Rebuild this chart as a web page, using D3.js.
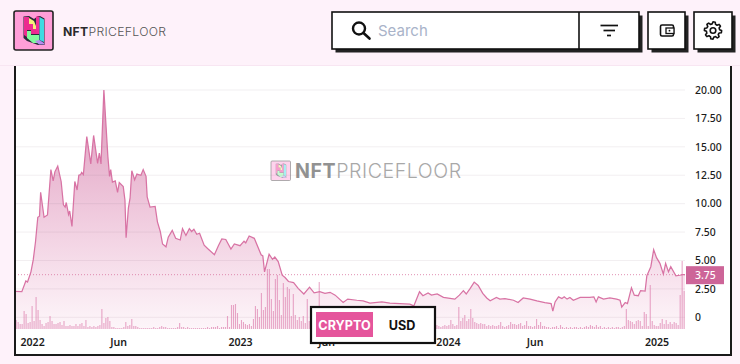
<!DOCTYPE html>
<html>
<head>
<meta charset="utf-8">
<script src="https://cdn.jsdelivr.net/npm/d3@7"></script>
<style>
  html, body { margin: 0; padding: 0; background: #fef2fa; }
  svg { display: block; }
  .axis text { font-family: "Noto Sans", sans-serif; fill: #1c1c1c; }
</style>
</head>
<body>
<script>
const width = 740;
const height = 364;

// days counted from 2022-01-01, and the floor price read at each of them
const priceDays = [-30,-18,-11,-8,-2,2,6,10,13,15,21,27,33,37,40,45,51,55,58,60,64,66,70,75,79,82,85,87,90,96,103,108,115,118,121,126,133,136,138,141,146,150,153,160,163,165,169,172,175,180,184,191,195,200,202,207,216,220,225,229,235,239,246,252,260,264,270,276,280,284,289,294,302,308,320,327,333,340,349,355,365,372,375,381,390,402,405,408,416,422,426,432,439,444,450,459,467,477,487,495,505,514,523,532,546,554,570,581,593,614,628,663,670,680,686,695,701,711,722,742,750,757,762,769,776,783,791,798,804,815,821,830,845,853,862,874,886,900,911,914,918,924,930,934,939,944,950,962,979,986,990,994,1003,1014,1026,1032,1035,1041,1045,1052,1057,1064,1068,1076,1079,1086,1091,1096,1102,1108,1112,1117,1121,1130,1137,1142,1146];
const priceValues = [2.29,2.26,3.2,3.1,4.0,5.05,6.65,8.8,8.9,11,8.8,9.0,13,12,12.8,13.3,11.95,9.9,9.7,10.1,9.05,9.35,8.0,11.95,11.2,12.5,12.55,12.75,12.55,15.9,13.5,16,13.55,14.45,13.5,20,14.15,12.4,13,11.9,12,11,11.85,11.5,10.3,7.0,9.6,10.5,12.9,12.1,12.6,12.5,13,12.4,10.6,9.7,9.75,8.4,7.55,6.45,6.2,7.05,7.65,6.95,6.8,7.8,7.2,7.8,7.55,7.75,7.3,7.4,6.35,6.05,5.5,6.3,6.9,6.85,6.0,6.45,6.3,6.7,6.55,7.15,6.95,5.5,5.4,4.0,5.55,5.1,5.3,4.9,3.7,3.5,3.15,3.05,2.55,2.05,2.65,2.15,2.25,2.1,2.2,1.95,1.3,1.6,1.5,1.45,1.25,1.35,1.25,1.15,1.0,2.25,1.9,2.15,1.95,2.05,1.75,1.6,1.95,2.35,2.05,2.55,3.1,2.8,2.1,1.7,1.45,1.75,1.6,1.65,1.5,1.3,1.7,1.6,1.45,1.3,1.2,0.55,1.35,1.8,1.65,1.8,1.6,1.75,1.5,1.75,1.75,1.8,1.35,1.8,1.6,1.7,1.6,1.5,0.9,1.3,1.2,2.6,1.95,1.9,2.35,2.3,3.65,4.45,5.95,5.25,4.75,3.8,4.75,4.0,4.45,3.65,3.7,3.75,3.75];

// volume, one reading every 3.5 days from volumeStartDay
const volumeStartDay = -28;
const volumeStepDays = 3.5;
const volumeValues = [
  9,7,5,5,18,15,6,7,23,8, 32,19,9,5,3,6,7,13,8,5,
  5,6,7,4,8,3,3,4,3,3, 5,3,5,6,3,9,2,3,2,3,
  2,3,4,20,6,11,12,8,2,2, 1,1,1,1,2,7,3,4,10,3,
  3,2,1,1,1,1,1,1,1,2, 1,1,2,3,2,2,1,1,1,1,
  1,2,6,2,2,1,2,1,1,1, 1,1,1,1,1,1,2,1,2,2,
  2,3,1,2,2,2,13,2,24,24, 25,16,5,9,7,5,4,5,3,10,
  23,20,12,36,19,22,60,60,30,18, 50,54,29,14,46,32,42,40,13,35,
  14,9,12,8,13,6,30,8,10,6, 7,6,47,10,8,6,7,5,6,4,
  5,4,6,3,4,3,5,3,4,2, 3,4,2,3,5,2,3,2,4,3,
  2,3,2,4,2,3,2,3,2,3, 2,3,4,2,3,2,3,2,3,3,
  4,3,5,3,4,3,4,3,5,3, 3,4,3,2,3,4,3,4,9,5,
  3,4,22,8,11,14,8,10,20,11, 7,6,5,6,5,5,3,4,3,4,
  3,3,4,7,3,2,3,4,7,5, 5,4,5,6,3,4,8,3,3,2,
  3,10,4,7,3,3,2,2,1,2, 2,3,1,4,2,1,2,1,2,1,
  2,2,1,2,1,2,3,2,4,3, 2,4,2,3,1,2,1,2,1,2,
  1,2,2,1,2,3,20,9,8,7, 5,8,9,8,3,17,15,3,44,8,
  4,3,3,6,10,5,9,5,7,5, 7,6,4,34,68,38
];

const yTicks = [0, 2.5, 5, 7.5, 10, 12.5, 15, 17.5, 20];
const xTickDates = ["2022-01-01","2022-06-01","2023-01-01","2023-06-01","2024-01-01","2024-06-01","2025-01-01"];
const xTickLabels = ["2022","Jun","2023","Jun","2024","Jun","2025"];
const lastPrice = 3.75;
const toggleLabels = ["CRYPTO","USD"];

const origin = new Date(2022, 0, 1);
const dayToDate = d => d3.timeHour.offset(origin, d * 24);

const plot = { left: 15, right: 685, top: 66, base: 329 };

const xScale = d3.scaleTime()
  .domain([dayToDate(-30), dayToDate(1146)])
  .range([plot.left, plot.right]);
const yScale = d3.scaleLinear()
  .domain([0, 20])
  .range([317.3, 90]);
const volumeScale = d3.scaleLinear()
  .domain([0, 68])
  .range([plot.base, plot.base - 68]);

const svg = d3.select("body").append("svg")
  .attr("width", width)
  .attr("height", height);

const defs = svg.append("defs");
const grad = defs.append("linearGradient")
  .attr("id", "area-fill")
  .attr("gradientUnits", "userSpaceOnUse")
  .attr("x1", 0).attr("x2", 0)
  .attr("y1", yScale(20)).attr("y2", plot.base);
grad.append("stop").attr("offset", "0%").attr("stop-color", "#c4528c").attr("stop-opacity", 0.6);
grad.append("stop").attr("offset", "100%").attr("stop-color", "#d9609f").attr("stop-opacity", 0.06);

// page + chart panel
svg.append("rect").attr("width", width).attr("height", height).attr("fill", "#fef2fa");
svg.append("rect").attr("x", 0).attr("y", 65).attr("width", width).attr("height", 1).attr("fill", "#f8e6f2");
svg.append("rect").attr("x", 15).attr("y", 66).attr("width", 716).attr("height", 289).attr("fill", "#fff");

// logo mark, also used for the watermark
function drawLogo(g) {
  g.append("rect").attr("x", 14).attr("y", 11).attr("width", 39).attr("height", 39)
    .attr("rx", 2).attr("fill", "#ff9ed8").attr("stroke", "#222").attr("stroke-width", 1.6);
  const parts = [
    ["#2b2b3a", "M23.5 16.5L29 16L34 19L38 16L40 16L44.5 18.5V45L38 45L27 41L23.5 38Z"],
    ["#ec2b90", "M24 17H29V24H33V29H36V34H31V30H27V37L24 35Z"],
    ["#f6f07a", "M29 18L34 21L36 26V29H33V24H29Z"],
    ["#f02c96", "M36 16.5H39.5V34H36Z"],
    ["#3fdbe2", "M39.5 17L44 19.5V42L39.5 40Z"],
    ["#7ffb9c", "M27 31H31V35H39V43L33 43L27 38Z"],
    ["#b68cf0", "M35 41L39.5 40L44 43V44.5L39 44.5Z"]
  ];
  g.selectAll("path").data(parts).join("path")
    .attr("fill", d => d[0]).attr("d", d => d[1]);
}
drawLogo(svg.append("g").attr("class", "logo"));

function logoText(x, y, size, spacing, color1, color2, opacity) {
  const t = svg.append("text")
    .attr("x", x).attr("y", y)
    .attr("font-family", "Inter, sans-serif")
    .attr("font-size", size)
    .attr("letter-spacing", spacing)
    .attr("opacity", opacity)
    .attr("dominant-baseline", "central");
  t.append("tspan").attr("font-weight", 700).attr("fill", color1).text("NFT");
  t.append("tspan").attr("font-weight", 300).attr("fill", color2).text("PRICEFLOOR");
}
logoText(63, 30.5, 12.2, 0.32, "#2a2a2a", "#555", 1);

// watermark
const wm = svg.append("g")
  .attr("transform", "translate(271,161) scale(0.5) translate(-14,-11)")
  .attr("opacity", 0.45);
drawLogo(wm);
logoText(295, 171, 19.6, 0.55, "#808080", "#9a9a9a", 0.85);

// area, line
const area = d3.area()
  .x((d, i) => xScale(dayToDate(priceDays[i])))
  .y0(plot.base)
  .y1(d => yScale(d));
const line = d3.line()
  .x((d, i) => xScale(dayToDate(priceDays[i])))
  .y(d => yScale(d));

svg.append("path").datum(priceValues)
  .attr("d", area)
  .attr("fill", "url(#area-fill)");

// grid, over the area as in the reference
svg.append("g").selectAll("line")
  .data(yTicks)
  .join("line")
  .attr("x1", plot.left).attr("x2", plot.right)
  .attr("y1", d => yScale(d)).attr("y2", d => yScale(d))
  .attr("stroke", "rgba(140,110,130,0.11)");

// volume bars
svg.append("g").selectAll("rect")
  .data(volumeValues)
  .join("rect")
  .attr("x", (d, i) => xScale(dayToDate(volumeStartDay + i * volumeStepDays)) - 0.55)
  .attr("width", 1.1)
  .attr("y", d => volumeScale(d))
  .attr("height", d => plot.base - volumeScale(d))
  .attr("fill", "#dd7fae")
  .attr("opacity", 0.68);

svg.append("path").datum(priceValues)
  .attr("d", line)
  .attr("fill", "none")
  .attr("stroke", "#d873a4")
  .attr("stroke-width", 1.25);

// last price line
svg.append("line")
  .attr("x1", plot.left).attr("x2", 688)
  .attr("y1", yScale(lastPrice)).attr("y2", yScale(lastPrice))
  .attr("stroke", "#d9739f")
  .attr("stroke-width", 0.8)
  .attr("stroke-dasharray", "1 2");

// axes
const yAxis = d3.axisRight(yScale)
  .tickValues(yTicks)
  .tickSize(0)
  .tickPadding(0)
  .tickFormat(d => d === 0 ? "0" : d.toFixed(2));
const yG = svg.append("g").attr("class", "axis")
  .attr("transform", "translate(695,0)")
  .call(yAxis);
yG.select(".domain").remove();
yG.selectAll("text").attr("font-size", 10.4).attr("font-weight", 500);

const xAxis = d3.axisBottom(xScale)
  .tickValues(xTickDates.map(d => d3.isoParse(d + "T00:00:00")))
  .tickSize(0)
  .tickPadding(9)
  .tickFormat((d, i) => xTickLabels[i]);
const xG = svg.append("g").attr("class", "axis")
  .attr("transform", "translate(0," + plot.base + ")")
  .call(xAxis);
xG.select(".domain").remove();
xG.selectAll("text").attr("font-size", 10.6).attr("font-weight", 600);

// last price tag
svg.append("rect")
  .attr("x", 686).attr("y", yScale(lastPrice) - 8.5)
  .attr("width", 38).attr("height", 18)
  .attr("fill", "#cd6598");
svg.append("text")
  .attr("x", 695).attr("y", yScale(lastPrice) + 0.5)
  .attr("dominant-baseline", "central")
  .attr("font-family", "Noto Sans, sans-serif")
  .attr("font-size", 10.4)
  .attr("font-weight", 500)
  .attr("fill", "#fff")
  .text(lastPrice.toFixed(2));

// chart frame
svg.append("path")
  .attr("d", "M15 66V355H731V66")
  .attr("fill", "none")
  .attr("stroke", "#1a1a1a")
  .attr("stroke-width", 2);

// toggle
svg.append("rect").attr("x", 311).attr("y", 307).attr("width", 124).attr("height", 36)
  .attr("fill", "#fff").attr("stroke", "#111").attr("stroke-width", 2.2);
svg.append("rect").attr("x", 316).attr("y", 312).attr("width", 57).attr("height", 25)
  .attr("fill", "#e5559c");
svg.selectAll(".toggle").data(toggleLabels).join("text")
  .attr("class", "toggle")
  .attr("x", (d, i) => i === 0 ? 344.5 : 402)
  .attr("y", 325)
  .attr("text-anchor", "middle")
  .attr("dominant-baseline", "central")
  .attr("font-family", "Inter, sans-serif")
  .attr("font-size", 12.6)
  .attr("font-weight", 700)
  .attr("fill", (d, i) => i === 0 ? "#fff" : "#111")
  .text(d => d);

// header buttons
const buttons = [[332, 307], [648, 37], [694, 38]];
svg.append("g").selectAll("rect.shadow").data(buttons).join("rect")
  .attr("x", d => d[0] + 3.5).attr("y", 15.5)
  .attr("width", d => d[1]).attr("height", 37)
  .attr("fill", "#222");
svg.append("g").selectAll("rect").data(buttons).join("rect")
  .attr("x", d => d[0]).attr("y", 12)
  .attr("width", d => d[1]).attr("height", 37)
  .attr("fill", "#fff").attr("stroke", "#111").attr("stroke-width", 1.6);
svg.append("line").attr("x1", 579).attr("x2", 579).attr("y1", 12).attr("y2", 49)
  .attr("stroke", "#111").attr("stroke-width", 1.6);

// search icon + placeholder
svg.append("circle").attr("cx", 359).attr("cy", 28.5).attr("r", 6)
  .attr("fill", "none").attr("stroke", "#111").attr("stroke-width", 2.4);
svg.append("line").attr("x1", 363.5).attr("y1", 33).attr("x2", 369.5).attr("y2", 38.5)
  .attr("stroke", "#111").attr("stroke-width", 2.6).attr("stroke-linecap", "round");
svg.append("text").attr("x", 378).attr("y", 30.5)
  .attr("dominant-baseline", "central")
  .attr("font-family", "Inter, sans-serif")
  .attr("font-size", 15)
  .attr("fill", "#a9b3c9")
  .text("Search");

// filter icon
svg.selectAll(".filter").data([[600.5, 618], [603.5, 615], [607, 611]]).join("line")
  .attr("class", "filter")
  .attr("x1", d => d[0]).attr("x2", d => d[1])
  .attr("y1", (d, i) => 25.5 + i * 5).attr("y2", (d, i) => 25.5 + i * 5)
  .attr("stroke", "#111").attr("stroke-width", 1.7);

// wallet icon
svg.append("rect").attr("x", 660.5).attr("y", 25).attr("width", 13).attr("height", 11)
  .attr("rx", 1.5).attr("fill", "none").attr("stroke", "#111").attr("stroke-width", 1.6);
svg.append("rect").attr("x", 666).attr("y", 28).attr("width", 8).attr("height", 5.5)
  .attr("fill", "#fff").attr("stroke", "#111").attr("stroke-width", 1.3);
svg.append("circle").attr("cx", 669.5).attr("cy", 30.7).attr("r", 0.9).attr("fill", "#111");

// gear icon
const gearPoints = d3.range(48).map(i => {
  const a = i / 48 * 2 * Math.PI;
  const r = (i % 6 < 3) ? 8.6 : 6.6;
  return [a, r];
});
svg.append("path")
  .attr("transform", "translate(713,30.5)")
  .attr("d", d3.lineRadial().curve(d3.curveLinearClosed)(gearPoints))
  .attr("fill", "none").attr("stroke", "#111").attr("stroke-width", 1.6).attr("stroke-linejoin", "round");
svg.append("circle").attr("cx", 713).attr("cy", 30.5).attr("r", 2.8)
  .attr("fill", "none").attr("stroke", "#111").attr("stroke-width", 1.6);
</script>
</body>
</html>
